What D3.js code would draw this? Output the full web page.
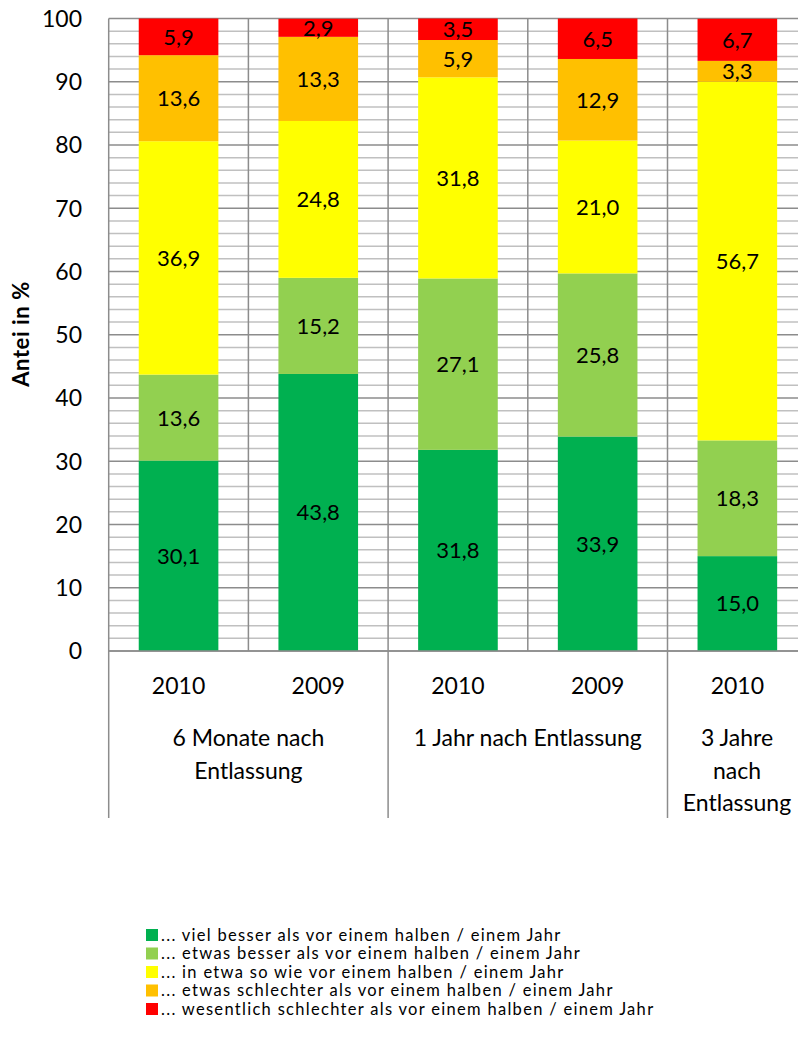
<!DOCTYPE html>
<html><head><meta charset="utf-8">
<script src="https://cdn.jsdelivr.net/npm/d3@7"></script>
<style>body{margin:0;background:#fff}svg{display:block}text{font-family:Lato,"Open Sans",sans-serif}</style>
</head><body>
<svg id="c" width="798" height="1039"></svg>
<script>
const bars = ["6M-2010","6M-2009","1J-2010","1J-2009","3J-2010"];
const years = ["2010","2009","2010","2009","2010"];
const groups = [
  {label:["6 Monate nach","Entlassung"], from:0, to:2},
  {label:["1 Jahr nach Entlassung"], from:2, to:4},
  {label:["3 Jahre","nach","Entlassung"], from:4, to:5}
];
const seriesNames = [
  "... viel besser als vor einem halben / einem Jahr",
  "... etwas besser als vor einem halben / einem Jahr",
  "... in etwa so wie vor einem halben / einem Jahr",
  "... etwas schlechter als vor einem halben / einem Jahr",
  "... wesentlich schlechter als vor einem halben / einem Jahr"
];
const vielBesser = [30.1, 43.8, 31.8, 33.9, 15.0];
const etwasBesser = [13.6, 15.2, 27.1, 25.8, 18.3];
const inEtwaSo = [36.9, 24.8, 31.8, 21.0, 56.7];
const etwasSchlechter = [13.6, 13.3, 5.9, 12.9, 3.3];
const wesentlichSchlechter = [5.9, 2.9, 3.5, 6.5, 6.7];
const yTicks = [0,10,20,30,40,50,60,70,80,90,100];
const colors = ["#00B050","#92D050","#FFFF00","#FFC000","#FF0000"];

const series = [vielBesser, etwasBesser, inEtwaSo, etwasSchlechter, wesentlichSchlechter];
const rows = bars.map((b,i)=>{const r={bar:b}; series.forEach((s,k)=>r["s"+k]=s[i]); return r;});
const keys = series.map((s,k)=>"s"+k);
const stacked = d3.stack().keys(keys)(rows);

const svg = d3.select("#c");
const L=108.7, R=807.2, T=18.5, B=651;
const x = d3.scaleBand().domain(bars).range([L,R]).paddingInner(0.43).paddingOuter(0.215);
const xb = d3.scaleBand().domain(bars).range([L,R]);
const y = d3.scaleLinear().domain([0,100]).range([B,T]);

svg.append("defs").append("clipPath").attr("id","pc").append("rect")
  .attr("x",L).attr("y",T).attr("width",R-L).attr("height",B-T);

// minor grid
const g = svg.append("g");
g.selectAll("line.minor").data(d3.range(0,101,2).filter(v=>v%10!==0)).join("line")
  .attr("x1",L).attr("x2",R).attr("y1",d=>y(d)).attr("y2",d=>y(d))
  .attr("stroke","#c0c0c0").attr("stroke-width",1.5);
// major grid
g.selectAll("line.major").data(yTicks).join("line")
  .attr("x1",L).attr("x2",R).attr("y1",d=>y(d)).attr("y2",d=>y(d))
  .attr("stroke","#8c8c8c").attr("stroke-width",1.5);
// vertical category lines
g.selectAll("line.v").data(bars.slice(1)).join("line")
  .attr("x1",d=>xb(d)).attr("x2",d=>xb(d)).attr("y1",T).attr("y2",B)
  .attr("stroke","#8c8c8c").attr("stroke-width",1.5);

// bars
const gb = svg.append("g").attr("clip-path","url(#pc)");
stacked.forEach((layer,k)=>{
  gb.selectAll(null).data(layer).join("rect")
    .attr("x",d=>x(d.data.bar)).attr("width",x.bandwidth())
    .attr("y",d=>y(d[1])).attr("height",d=>y(d[0])-y(d[1]))
    .attr("fill",colors[k]);
});
// labels
stacked.forEach((layer,k)=>{
  svg.append("g").selectAll("text").data(layer).join("text")
    .attr("x",d=>x(d.data.bar)+x.bandwidth()/2)
    .attr("y",d=>y((d[0]+Math.min(d[1],100))/2))
    .attr("dy","0.36em").attr("text-anchor","middle")
    .attr("font-size",22).attr("fill","#000")
    .text(d=>d3.format(".1f")(d[1]-d[0]).replace(".",","));
});

// axes lines
svg.append("line").attr("x1",L).attr("x2",L).attr("y1",T).attr("y2",818).attr("stroke","#8c8c8c").attr("stroke-width",1.5);
svg.append("line").attr("x1",L).attr("x2",R).attr("y1",B).attr("y2",B).attr("stroke","#8c8c8c").attr("stroke-width",1.5);
// group separators
groups.forEach(gr=>{
  const xe = gr.to<bars.length ? xb(bars[gr.to]) : R;
  svg.append("line").attr("x1",xe).attr("x2",xe).attr("y1",B).attr("y2",818).attr("stroke","#8c8c8c").attr("stroke-width",1.5);
});

// y tick labels
svg.append("g").selectAll("text").data(yTicks).join("text")
  .attr("x",82).attr("y",d=>y(d)).attr("dy","0.36em").attr("text-anchor","end")
  .attr("font-size",23).text(d=>d);

// year labels
svg.append("g").selectAll("text").data(bars).join("text")
  .attr("x",d=>xb(d)+xb.bandwidth()/2).attr("y",694).attr("text-anchor","middle")
  .attr("font-size",23).text((d,i)=>years[i]);

// group labels
groups.forEach(gr=>{
  const x0 = xb(bars[gr.from]);
  const x1 = gr.to<bars.length ? xb(bars[gr.to]) : R;
  const cx = gr.to<bars.length ? (x0+x1)/2 : 737;
  gr.label.forEach((t,j)=>{
    svg.append("text").attr("x",cx).attr("y",746+j*32.5).attr("text-anchor","middle")
      .attr("font-size",23).text(t);
  });
});

// y title
svg.append("text").attr("transform","translate(29,334) rotate(-90)")
  .attr("text-anchor","middle").attr("font-size",22).attr("font-weight","bold")
  .attr("letter-spacing",0.6).text("Antei in %");

// legend
const lg = svg.append("g");
seriesNames.forEach((n,k)=>{
  const cy = 935 + k*18.5;
  lg.append("rect").attr("x",146).attr("y",cy-6).attr("width",12).attr("height",12).attr("fill",colors[k]);
  lg.append("text").attr("x",161).attr("y",cy).attr("dy","0.36em").attr("font-size",16.5)
    .attr("letter-spacing",1.3).text(n);
});
</script>
</body></html>
